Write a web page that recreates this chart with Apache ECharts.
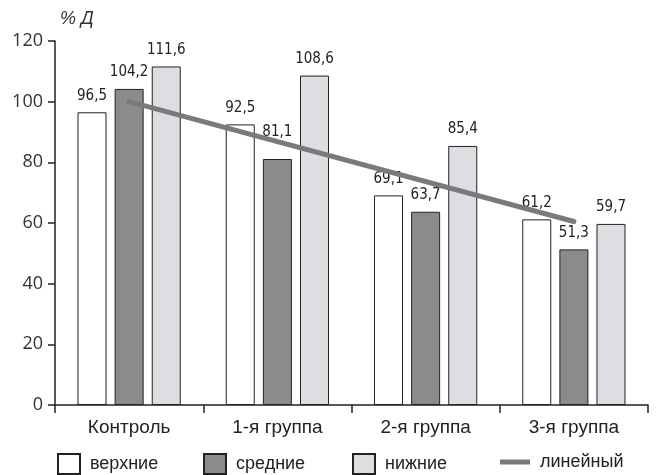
<!DOCTYPE html>
<html>
<head>
<meta charset="utf-8">
<script src="https://cdn.jsdelivr.net/npm/echarts@6/dist/echarts.min.js"></script>
<style>
  html, body { margin: 0; padding: 0; background: #ffffff; }
  #chart { width: 659px; height: 475px; }
</style>
</head>
<body>
<div id="chart"></div>
<script>
// Groups along the horizontal axis
const categories = ['Контроль', '1-я группа', '2-я группа', '3-я группа'];

// Values per leaf tier, % Д
const upperLeaves  = [96.5, 92.5, 69.1, 61.2];
const middleLeaves = [104.2, 81.1, 63.7, 51.3];
const lowerLeaves  = [111.6, 108.6, 85.4, 59.7];

// Linear trend: drawn only between its two end points
const trendLine = [100, null, null, 60.5];

// Vertical axis ticks
const yTicks = [0, 20, 40, 60, 80, 100, 120];

const seriesNames = ['верхние', 'средние', 'нижние', 'линейный'];

const ink = '#222222';
const labelFont = '"Liberation Sans Narrow", "DejaVu Sans Condensed", "Liberation Sans", sans-serif';
const textFont = '"Liberation Sans", Arial, sans-serif';

function commaLabel(p) {
  return String(p.value.toFixed(1)).replace('.', ',');
}

// Bar data items; a label that would sit under the trend line is lifted clear of it
function barItems(values, liftIndex) {
  return values.map(function (v, i) {
    return i === liftIndex ? { value: v, label: { offset: [0, -10] } } : v;
  });
}

function barSeries(name, data, fill) {
  return {
    name: name,
    type: 'bar',
    data: data,
    barWidth: 29,
    barGap: '28%',
    itemStyle: { color: fill, borderColor: ink, borderWidth: 1 },
    label: {
      show: true,
      position: 'top',
      distance: 9,
      formatter: commaLabel,
      fontFamily: labelFont,
      fontSize: 15,
      color: ink
    },
    emphasis: { disabled: true },
    z: 2
  };
}

const legendText = { fontFamily: textFont, fontSize: 18, color: ink, padding: [0, 0, 0, 5] };
function legendAt(left, top, name, w, h) {
  return {
    left: left, top: top,
    padding: 0,
    data: [{ name: name, icon: 'rect' }],
    itemWidth: w, itemHeight: h,
    textStyle: legendText,
    selectedMode: false
  };
}

const chart = echarts.init(document.getElementById('chart'));
chart.setOption({
  animation: false,
  backgroundColor: '#ffffff',
  title: {
    text: '% Д',
    left: 55, top: 5,
    textStyle: { fontFamily: textFont, fontSize: 18, fontStyle: 'italic', fontWeight: 'normal', color: '#333' }
  },
  legend: [
    legendAt(57, 453, seriesNames[0], 22, 20),
    legendAt(203, 453, seriesNames[1], 22, 20),
    legendAt(352, 453, seriesNames[2], 22, 20),
    legendAt(500, 453, seriesNames[3], 30, 5)
  ],
  grid: { left: 55, right: 11, top: 41, bottom: 70, containLabel: false },
  xAxis: {
    type: 'category',
    data: categories,
    axisLine: { lineStyle: { color: ink, width: 1.5 } },
    axisTick: { show: true, length: 8, lineStyle: { color: ink, width: 1.5 } },
    axisLabel: { margin: 13, fontFamily: textFont, fontSize: 19, color: ink }
  },
  yAxis: {
    type: 'value',
    min: yTicks[0],
    max: yTicks[yTicks.length - 1],
    interval: yTicks[1] - yTicks[0],
    axisLine: { show: true, lineStyle: { color: ink, width: 1.5 } },
    axisTick: { show: true, length: 7, lineStyle: { color: ink, width: 1.5 } },
    axisLabel: { margin: 12, fontFamily: '"Open Sans", sans-serif', fontSize: 18, color: '#333' },
    splitLine: { show: false }
  },
  series: [
    barSeries(seriesNames[0], barItems(upperLeaves, -1), '#ffffff'),
    barSeries(seriesNames[1], barItems(middleLeaves, 1), '#8b8b8d'),
    barSeries(seriesNames[2], barItems(lowerLeaves, -1), '#dcdee2'),
    {
      name: seriesNames[3],
      type: 'line',
      data: trendLine,
      connectNulls: true,
      symbol: 'none',
      lineStyle: { color: '#7a7a7c', width: 5, cap: 'round' },
      itemStyle: { color: '#7a7a7c' },
      emphasis: { disabled: true },
      z: 5
    }
  ]
});
</script>
</body>
</html>
